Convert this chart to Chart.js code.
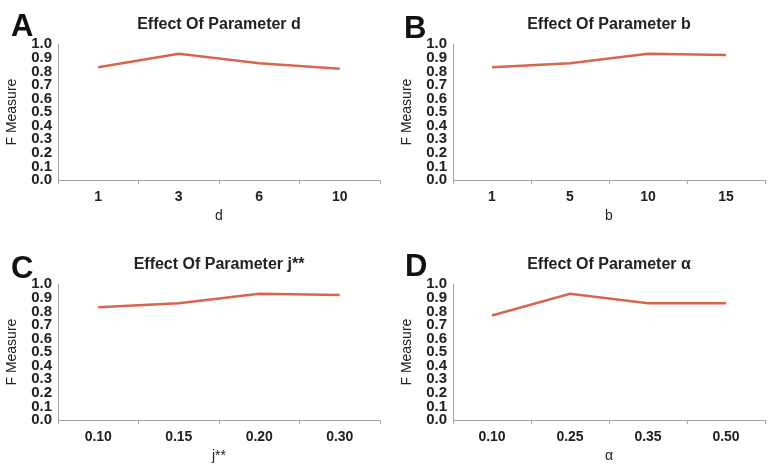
<!DOCTYPE html>
<html>
<head>
<meta charset="utf-8">
<script src="https://cdn.jsdelivr.net/npm/chart.js@4/dist/chart.umd.min.js"></script>
<style>
  body { margin: 0; background: #fff; }
  #wrap { position: relative; width: 770px; height: 465px; overflow: hidden; }
  .panel { position: absolute; width: 385px; height: 225px; }
  .letter { position: absolute; font: bold 31px "Liberation Sans", Arial, sans-serif; color: #111; line-height: 1; }
</style>
</head>
<body>
<div id="wrap">
  <div class="panel" style="left:0;top:0"><canvas id="chartA"></canvas></div>
  <div class="panel" style="left:385px;top:0"><canvas id="chartB"></canvas></div>
  <div class="panel" style="left:0;top:240px"><canvas id="chartC"></canvas></div>
  <div class="panel" style="left:385px;top:240px"><canvas id="chartD"></canvas></div>
  <div class="letter" style="left:11px;top:10px">A</div>
  <div class="letter" style="left:404px;top:12px">B</div>
  <div class="letter" style="left:11px;top:252px">C</div>
  <div class="letter" style="left:405px;top:250px">D</div>
</div>
<script>
// Data
const labelsD = ['1', '3', '6', '10'];
const valuesD = [0.83, 0.93, 0.86, 0.82];

const labelsB = ['1', '5', '10', '15'];
const valuesB = [0.83, 0.86, 0.93, 0.92];

const labelsJ = ['0.10', '0.15', '0.20', '0.30'];
const valuesJ = [0.83, 0.86, 0.93, 0.92];

const labelsAlpha = ['0.10', '0.25', '0.35', '0.50'];
const valuesAlpha = [0.77, 0.93, 0.86, 0.86];

const yTicks = [0, 0.1, 0.2, 0.3, 0.4, 0.5, 0.6, 0.7, 0.8, 0.9, 1.0];

const LINE_COLOR = '#D9654E';
const AXIS_COLOR = '#A8A8A8';
const FONT = '"Liberation Sans", Arial, sans-serif';

function makeChart(id, title, xTitle, labels, values, padLeft) {
    const ctx = document.getElementById(id).getContext('2d');
    return new Chart(ctx, {
        type: 'line',
        data: {
            labels: labels,
            datasets: [{
                data: values,
                borderColor: LINE_COLOR,
                borderWidth: 2.5,
                pointRadius: 0,
                tension: 0,
                fill: false
            }]
        },
        options: {
            responsive: true,
            maintainAspectRatio: false,
            animation: false,
            layout: {
                padding: { left: padLeft, right: 5, top: 0, bottom: 0 }
            },
            plugins: {
                legend: { display: false },
                tooltip: { enabled: false },
                title: {
                    display: true,
                    text: title,
                    fullSize: false,
                    color: '#222',
                    font: { family: FONT, size: 16, weight: 'bold' },
                    padding: { top: 15, bottom: 10 }
                }
            },
            scales: {
                x: {
                    offset: true,
                    grid: {
                        offset: true,
                        drawOnChartArea: false,
                        drawTicks: true,
                        tickLength: 4,
                        color: AXIS_COLOR
                    },
                    border: { display: true, color: AXIS_COLOR, width: 1 },
                    ticks: {
                        color: '#222',
                        padding: 5,
                        font: { family: FONT, size: 14, weight: 'bold' }
                    },
                    title: {
                        display: true,
                        text: xTitle,
                        color: '#222',
                        font: { family: FONT, size: 14 },
                        padding: { top: 0, bottom: 0 }
                    },
                    afterFit: function(scale) { scale.height = 45; }
                },
                y: {
                    min: 0,
                    max: 1,
                    afterBuildTicks: function(scale) {
                        scale.ticks = yTicks.map(v => ({ value: v }));
                    },
                    grid: { drawOnChartArea: false, drawTicks: false },
                    border: { display: true, color: AXIS_COLOR, width: 1 },
                    ticks: {
                        autoSkip: false,
                        color: '#222',
                        padding: 6,
                        font: { family: FONT, size: 15, weight: 'bold' },
                        callback: function(value) { return Number(value).toFixed(1); }
                    },
                    title: {
                        display: true,
                        text: 'F Measure',
                        color: '#222',
                        font: { family: FONT, size: 14 },
                        padding: { top: 4, bottom: 0 }
                    },
                    afterFit: function(scale) { scale.width = 58; }
                }
            }
        }
    });
}

makeChart('chartA', 'Effect Of Parameter d', 'd', labelsD, valuesD, 0);
makeChart('chartB', 'Effect Of Parameter b', 'b', labelsB, valuesB, 10);
makeChart('chartC', 'Effect Of Parameter j**', 'j**', labelsJ, valuesJ, 0);
makeChart('chartD', 'Effect Of Parameter \u03b1', '\u03b1', labelsAlpha, valuesAlpha, 10);
</script>
</body>
</html>
